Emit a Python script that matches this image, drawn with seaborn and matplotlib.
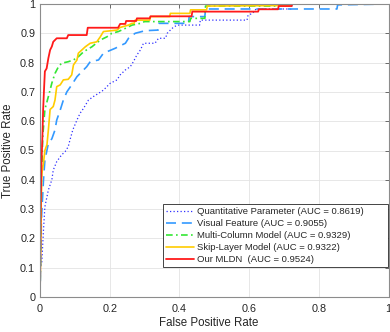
import numpy as np
import pandas as pd
import matplotlib
matplotlib.use("Agg")
import matplotlib.pyplot as plt
from matplotlib.ticker import FuncFormatter
import seaborn as sns

# ---- data ----
quant_fpr = [0, 0.0, 0.005, 0.01, 0.014, 0.024, 0.034, 0.038, 0.048, 0.062, 0.072, 0.081, 0.086, 0.094,
             0.106, 0.115, 0.125, 0.139, 0.153, 0.168, 0.182, 0.201, 0.221, 0.23, 0.245, 0.259, 0.268,
             0.278, 0.288, 0.297, 0.33, 0.34, 0.36, 0.365, 0.374, 0.384, 0.395, 0.458, 0.46, 0.594,
             0.597, 0.61, 0.62, 0.72, 0.724, 1.0]
quant_tpr = [0, 0.10, 0.115, 0.229, 0.308, 0.365, 0.40, 0.433, 0.462, 0.485, 0.496, 0.513, 0.536, 0.57,
             0.604, 0.627, 0.644, 0.672, 0.684, 0.695, 0.706, 0.729, 0.741, 0.758, 0.775, 0.786, 0.803,
             0.826, 0.843, 0.866, 0.866, 0.883, 0.883, 0.90, 0.911, 0.922, 0.928, 0.928, 0.945, 0.945,
             0.962, 0.968, 0.983, 0.983, 1.0, 1.0]

visual_fpr = [0, 0.003, 0.004, 0.005, 0.01, 0.014, 0.024, 0.034, 0.043, 0.048, 0.058, 0.067, 0.077,
              0.091, 0.106, 0.12, 0.134, 0.144, 0.168, 0.182, 0.216, 0.245, 0.254, 0.273, 0.302, 0.339,
              0.341, 0.426, 0.428, 0.473, 0.475, 0.852, 0.854, 1.0]
visual_tpr = [0, 0.195, 0.26, 0.287, 0.40, 0.467, 0.524, 0.54, 0.57, 0.604, 0.638, 0.672, 0.70,
              0.724, 0.752, 0.769, 0.786, 0.803, 0.809, 0.832, 0.849, 0.866, 0.883, 0.90, 0.909, 0.911,
              0.934, 0.934, 0.957, 0.957, 0.983, 0.983, 0.997, 1.0]

multi_fpr = [0, 0.002, 0.004, 0.008, 0.014, 0.024, 0.034, 0.043, 0.053, 0.062, 0.081, 0.096, 0.11,
             0.125, 0.149, 0.173, 0.192, 0.206, 0.225, 0.245, 0.264, 0.288, 0.30, 0.43, 0.432, 0.473,
             0.475, 0.68, 0.685, 1.0]
multi_tpr = [0, 0.20, 0.40, 0.55, 0.64, 0.684, 0.73, 0.763, 0.786, 0.798, 0.803, 0.809, 0.82,
             0.837, 0.854, 0.877, 0.888, 0.90, 0.906, 0.917, 0.928, 0.934, 0.94, 0.94, 0.951, 0.951,
             0.993, 0.993, 1.0, 1.0]

skip_fpr = [0, 0.003, 0.005, 0.01, 0.014, 0.02, 0.024, 0.029, 0.038, 0.043, 0.048, 0.058, 0.067, 0.081,
            0.091, 0.096, 0.106, 0.11, 0.13, 0.144, 0.163, 0.173, 0.182, 0.221, 0.23, 0.254, 0.264,
            0.27, 0.273, 0.315, 0.317, 0.372, 0.374, 0.43, 0.432, 0.478, 0.48, 0.72, 0.724, 1.0]
skip_tpr = [0, 0.30, 0.42, 0.457, 0.50, 0.52, 0.57, 0.64, 0.65, 0.672, 0.718, 0.724, 0.741, 0.743,
            0.758, 0.792, 0.809, 0.832, 0.854, 0.866, 0.871, 0.888, 0.906, 0.911, 0.92, 0.928, 0.934,
            0.934, 0.945, 0.945, 0.957, 0.957, 0.968, 0.968, 0.98, 0.98, 0.993, 0.995, 1.0, 1.0]

mldn_fpr = [0, 0.002, 0.004, 0.007, 0.009, 0.012, 0.014, 0.019, 0.024, 0.029, 0.034, 0.038, 0.048,
            0.077, 0.081, 0.134, 0.137, 0.224, 0.23, 0.245, 0.247, 0.276, 0.278, 0.315, 0.317, 0.435,
            0.437, 0.626, 0.628, 0.683, 0.685, 0.722, 0.724, 1.0]
mldn_tpr = [0, 0.30, 0.45, 0.55, 0.64, 0.72, 0.77, 0.78, 0.815, 0.843, 0.855, 0.871, 0.883,
            0.883, 0.894, 0.894, 0.919, 0.919, 0.932, 0.932, 0.942, 0.942, 0.951, 0.951, 0.958, 0.958,
            0.974, 0.974, 0.982, 0.982, 0.993, 0.993, 1.0, 1.0]

labels = ["Quantitative Parameter (AUC = 0.8619)",
          "Visual Feature (AUC = 0.9055)",
          "Multi-Column Model (AUC = 0.9329)",
          "Skip-Layer Model (AUC = 0.9322)",
          "Our MLDN  (AUC = 0.9524)"]
xticks = [0, 0.2, 0.4, 0.6, 0.8, 1]
yticks = [0, 0.1, 0.2, 0.3, 0.4, 0.5, 0.6, 0.7, 0.8, 0.9, 1]

series = [(quant_fpr, quant_tpr), (visual_fpr, visual_tpr), (multi_fpr, multi_tpr),
          (skip_fpr, skip_tpr), (mldn_fpr, mldn_tpr)]
colors = ["#3030ff", "#3399ff", "#33e633", "#ffcc00", "#ff1a1a"]
styles = [(0, (1, 1.8)), (0, (6, 3.5)), (0, (4, 2, 1, 2)), "-", "-"]
widths = [0.9, 1.2, 1.2, 1.2, 1.3]

sns.set_style("white")
plt.rcParams["font.family"] = ["Liberation Sans", "DejaVu Sans"]

fig = plt.figure(figsize=(3.9, 3.32), dpi=100)
ax = fig.add_axes([40 / 390, 1 - 297 / 332, 348.5 / 390, 293 / 332])

for (fx, fy), lab, c, ls, lw in zip(series, labels, colors, styles, widths):
    df = pd.DataFrame({"fpr": fx, "tpr": fy})
    sns.lineplot(data=df, x="fpr", y="tpr", ax=ax, color=c, linestyle=ls, linewidth=lw,
                 sort=False, estimator=None, label=lab)

ax.set_xlim(0, 1)
ax.set_ylim(0, 1)
ax.set_xticks(xticks)
ax.set_yticks(yticks)
fmt = FuncFormatter(lambda v, p: "%g" % v)
ax.xaxis.set_major_formatter(fmt)
ax.yaxis.set_major_formatter(fmt)
ax.grid(True, color="#e3e3e3", linewidth=0.6)
ax.set_axisbelow(True)
for s in ax.spines.values():
    s.set_visible(True)
    s.set_color("#8c8c8c")
    s.set_linewidth(0.8)
ax.tick_params(direction="in", length=2.8, width=0.6, color="#555555",
               top=True, right=True, labelsize=7.8, labelcolor="#262626")
ax.tick_params(axis="x", pad=5)
ax.tick_params(axis="y", pad=3.5)
ax.set_xlabel("False Positive Rate", fontsize=8.3, color="#262626", va="center")
ax.set_ylabel("True Positive Rate", fontsize=8.3, color="#262626", va="center")
ax.xaxis.set_label_coords(0.484, -0.09)
ax.yaxis.set_label_coords(-0.092, 0.5)

leg = ax.legend(loc="lower left", bbox_to_anchor=(0.353, 0.103, 0.6456, 0.205), mode="expand",
                fontsize=6.8, frameon=True, fancybox=False, framealpha=1, edgecolor="#262626",
                handlelength=3.0, handletextpad=0.35, labelspacing=0.32,
                borderpad=0.3, borderaxespad=0)
leg.get_frame().set_linewidth(0.6)

fig.savefig("out.png", dpi=100)
